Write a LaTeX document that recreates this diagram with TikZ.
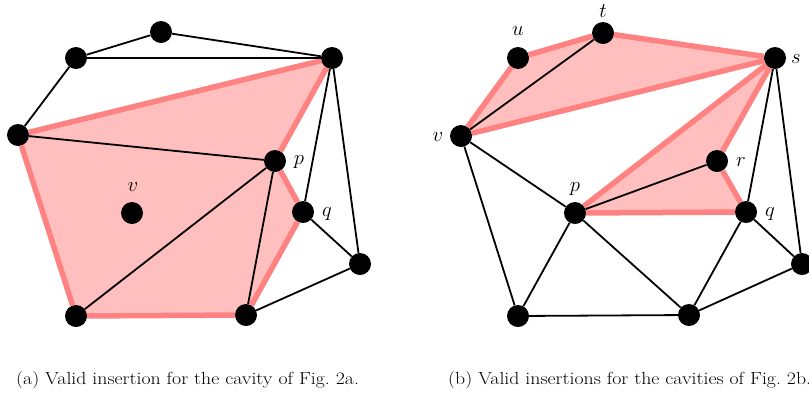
\documentclass[tikz,border=0pt]{standalone}
\usepackage{amsmath}
\usepackage{xcolor}
\usepackage{tikz}
\usetikzlibrary{positioning, backgrounds}

\definecolor{cavline}{HTML}{FF8282}
\definecolor{cavfill}{HTML}{FFBFBF}

\begin{document}
\begin{tikzpicture}[x=1pt, y=-1pt,
  vertex/.style={circle, fill=black, inner sep=0pt, minimum size=22pt},
  edge/.style={draw, line width=1.8pt},
  cavedge/.style={draw=cavline, line width=5.5pt},
  cavity/.style={fill=cavfill},
  vlabel/.style={font=\fontsize{21}{24}\selectfont, inner sep=0pt},
  caption/.style={font=\fontsize{17.5}{20}\selectfont, anchor=west, inner sep=0pt}
]
\useasboundingbox (0,0) rectangle (809,392);
\clip (0,0) rectangle (809,392);

% --- (a) vertices ---
\node[vertex] (lt)  at (161,32)  {};
\node[vertex] (lul) at (76,58)   {};
\node[vertex] (lur) at (332,58)  {};
\node[vertex] (lw)  at (18,135)  {};
\node[vertex] (lp)  at (275,161) {};
\node[vertex] (lv)  at (132,213) {};
\node[vertex] (lq)  at (303,212) {};
\node[vertex] (le)  at (360,264) {};
\node[vertex] (lbl) at (76,316)  {};
\node[vertex] (lbm) at (246,315) {};

% --- (b) vertices ---
\node[vertex] (rt)  at (603,33)  {};
\node[vertex] (ru)  at (518,58)  {};
\node[vertex] (rs)  at (775,58)  {};
\node[vertex] (rv)  at (461,136) {};
\node[vertex] (rr)  at (717,161) {};
\node[vertex] (rp)  at (575,213) {};
\node[vertex] (rq)  at (746,212) {};
\node[vertex] (re)  at (802,264) {};
\node[vertex] (rbl) at (518,316) {};
\node[vertex] (rbm) at (689,315) {};

% --- Cavities ---
\begin{scope}[on background layer]
  \fill[cavity] (lw.center) -- (lur.center) -- (lp.center) -- (lq.center)
    -- (lbm.center) -- (lbl.center) -- cycle;
  \fill[cavity] (rv.center) -- (ru.center) -- (rt.center) -- (rs.center) -- cycle;
  \fill[cavity] (rp.center) -- (rs.center) -- (rr.center) -- (rq.center) -- cycle;
\end{scope}

\foreach \a/\b in {lw/lur, lur/lp, lp/lq, lq/lbm, lbm/lbl, lbl/lw,
                   rv/ru, ru/rt, rt/rs, rs/rv, rp/rs, rs/rr, rr/rq, rq/rp} {
  \draw[cavedge] (\a) -- (\b);
}

% --- Triangulation edges ---
\foreach \a/\b in {lt/lul, lt/lur, lul/lur, lul/lw, lw/lp, lur/lq, lur/le,
                   lq/le, le/lbm, lbl/lp, lbm/lp} {
  \draw[edge] (\a) -- (\b);
}
\foreach \a/\b in {rv/rt, rs/rq, rs/re, rp/rr, rv/rp, rv/rbl, rp/rbl,
                   rp/rbm, rq/rbm, rq/re, re/rbm, rbl/rbm} {
  \draw[edge] (\a) -- (\b);
}

% --- Labels ---
\node[vlabel] (lplab) at (299,162) {$p$};
\node[vlabel] (lqlab) at (327,214) {$q$};
\node[vlabel] (lvlab) at (133,187) {$v$};
\node[vlabel] (rulab) at (518,31)  {$u$};
\node[vlabel] (rtlab) at (603,11)  {$t$};
\node[vlabel] (rslab) at (796,59)  {$s$};
\node[vlabel] (rvlab) at (438,137) {$v$};
\node[vlabel] (rrlab) at (741,162) {$r$};
\node[vlabel] (rplab) at (575,189) {$p$};
\node[vlabel] (rqlab) at (770,214) {$q$};

% --- Captions ---
\node[caption] (capa) at (16,380)
  {\scalebox{1.13}[1]{(a) Valid insertion for the cavity of Fig.~2a.}};
\node[caption] (capb) at (448,380)
  {\scalebox{1.13}[1]{(b) Valid insertions for the cavities of Fig.~2b.}};

\end{tikzpicture}
\end{document}
